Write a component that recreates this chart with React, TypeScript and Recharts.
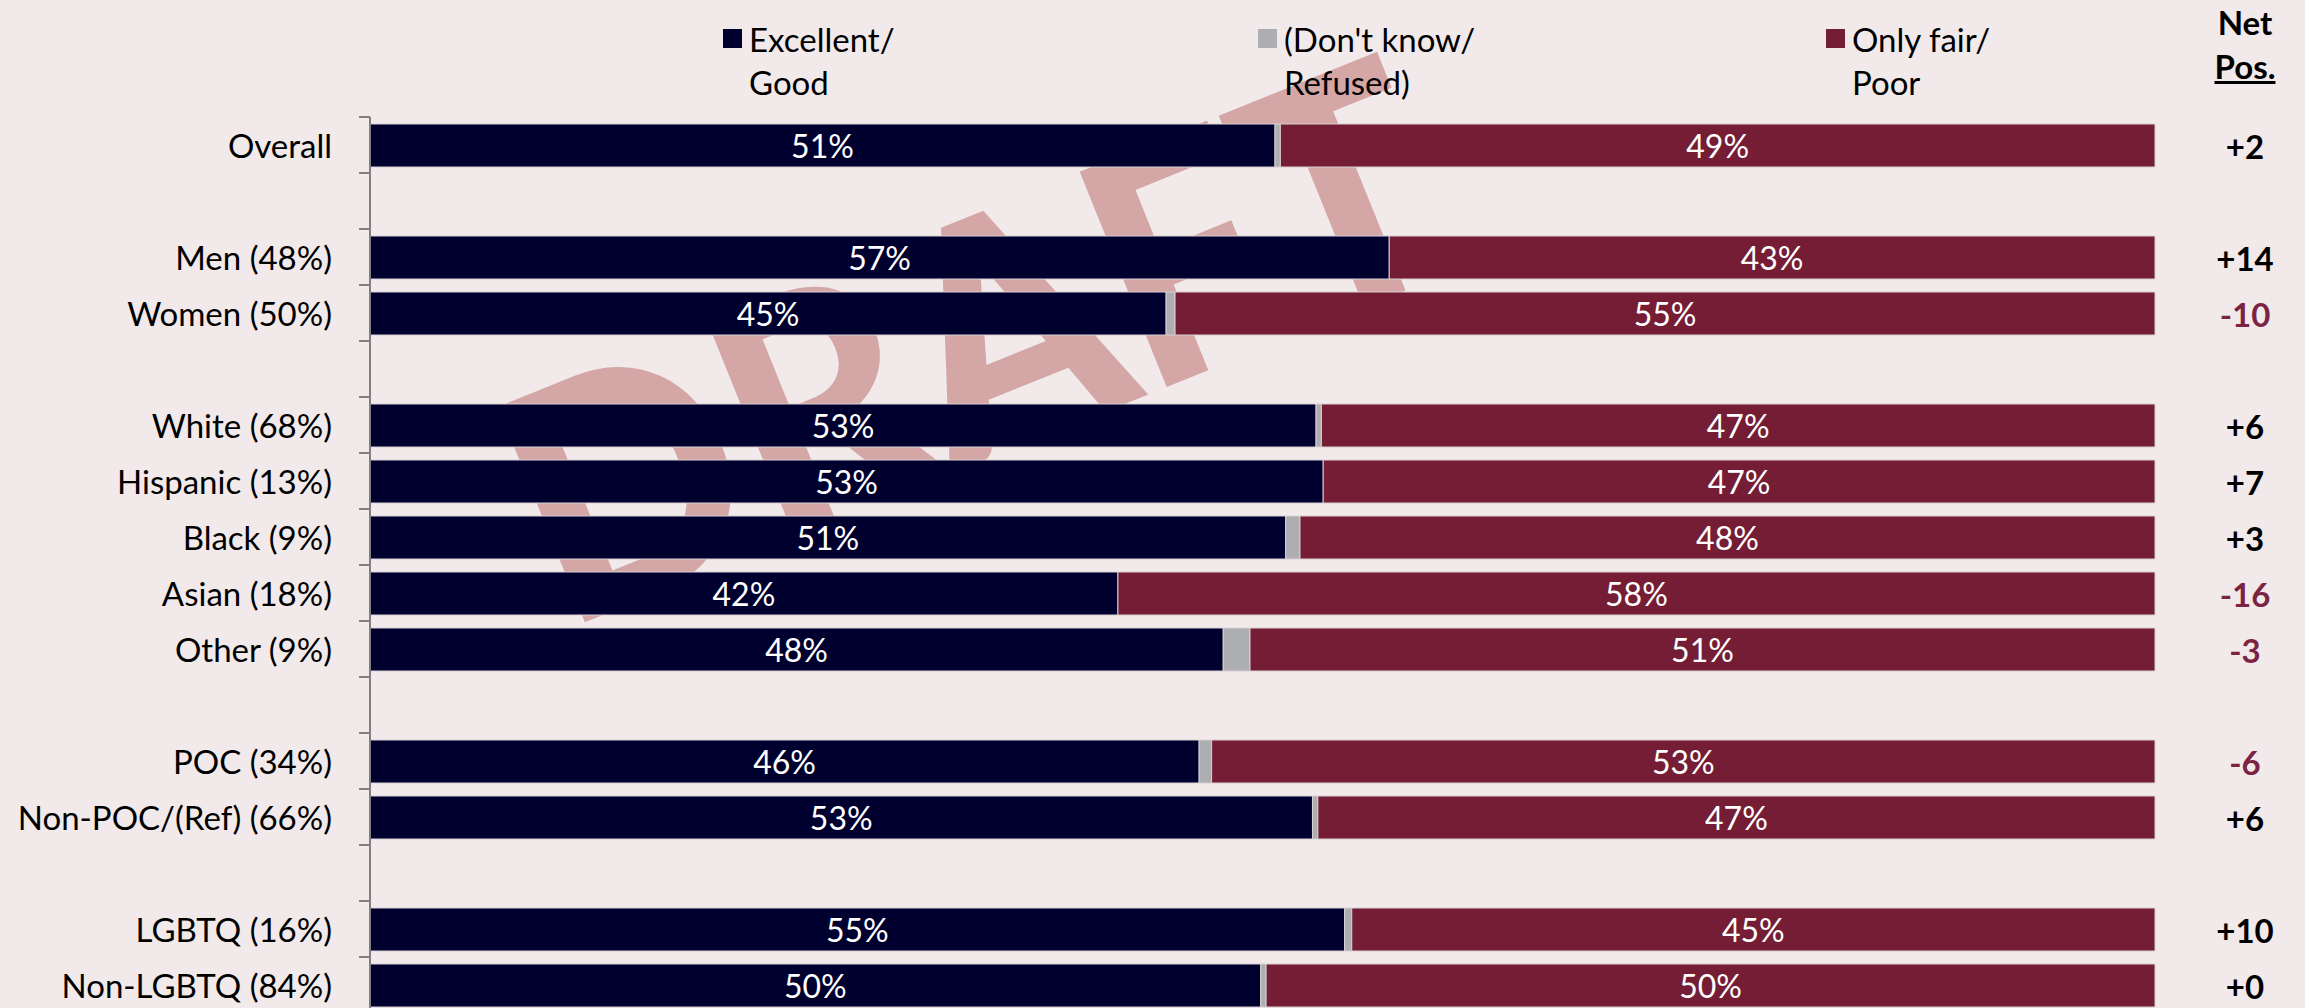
import React from "react";
import { BarChart, Bar, XAxis, YAxis, LabelList } from "recharts";

// rows top to bottom; empty strings are the spacer rows between groups
const categories = [
  "Overall",
  "",
  "Men (48%)",
  "Women (50%)",
  "",
  "White (68%)",
  "Hispanic (13%)",
  "Black (9%)",
  "Asian (18%)",
  "Other (9%)",
  "",
  "POC (34%)",
  "Non-POC/(Ref) (66%)",
  "",
  "LGBTQ (16%)",
  "Non-LGBTQ (84%)",
];

const excellentGood = [50.7, null, 57.1, 44.6, null, 53.0, 53.4, 51.3, 41.9, 47.8, null, 46.45, 52.8, null, 54.6, 49.9];
const dontKnow = [0.3, null, 0, 0.5, null, 0.3, 0, 0.8, 0, 1.5, null, 0.7, 0.3, null, 0.4, 0.3];
const onlyFairPoor = [49.0, null, 42.9, 54.9, null, 46.7, 46.6, 47.9, 58.1, 50.7, null, 52.85, 46.9, null, 45.0, 49.8];
const netPos = [2, null, 14, -10, null, 6, 7, 3, -16, -3, null, -6, 6, null, 10, 0];

const legendItems = [
  { lines: ["Excellent/", "Good"], color: "#00002E", left: 723 },
  { lines: ["(Don't know/", "Refused)"], color: "#ADAEB1", left: 1258 },
  { lines: ["Only fair/", "Poor"], color: "#741D35", left: 1826 },
];

const W = 2305;
const H = 1013;
const MARGIN = { top: 117, right: 150, bottom: 0, left: 0 };
const AXIS_W = 370;
const BAND = (H - MARGIN.top - MARGIN.bottom) / categories.length;
const FONT = "Lato, 'Open Sans', sans-serif";
const BG = "#F1E9EA";
const AXIS_COLOR = "#808080";
const NEG_COLOR = "#7A2343";

const data = categories.map((name, i) => ({
  key: `r${i}`,
  name,
  good: excellentGood[i],
  dk: dontKnow[i],
  poor: onlyFairPoor[i],
  net: netPos[i],
}));

const CategoryTick = (props: any) => {
  const { y, payload } = props;
  const i = Number(String(payload.value).slice(1));
  const name = categories[i];
  return (
    <g>
      <line x1={AXIS_W - 11} x2={AXIS_W} y1={y - BAND / 2} y2={y - BAND / 2} stroke={AXIS_COLOR} strokeWidth={2} />
      <line x1={AXIS_W - 11} x2={AXIS_W} y1={y + BAND / 2} y2={y + BAND / 2} stroke={AXIS_COLOR} strokeWidth={2} />
      {name && (
        <text x={AXIS_W - 38} y={y} textAnchor="end" dominantBaseline="central" fontSize={33} fontFamily={FONT} fill="#000">
          {name}
        </text>
      )}
    </g>
  );
};

const PctLabel = (props: any) => {
  const { x, y, width, height, value } = props;
  if (value == null || width < 20) return null;
  return (
    <text
      x={x + width / 2}
      y={y + height / 2}
      textAnchor="middle"
      dominantBaseline="central"
      fontSize={32}
      fontFamily={FONT}
      fill="#FFFFFF"
    >
      {`${Math.round(value)}%`}
    </text>
  );
};

const NetLabel = (props: any) => {
  const { x, y, width, height, value } = props;
  if (value == null) return null;
  const v = Number(value);
  return (
    <text
      x={x + width + 90}
      y={y + height / 2}
      textAnchor="middle"
      dominantBaseline="central"
      fontSize={33}
      fontWeight={700}
      fontFamily={FONT}
      fill={v < 0 ? NEG_COLOR : "#000"}
    >
      {v < 0 ? `${v}` : `+${v}`}
    </text>
  );
};

export default function App() {
  return (
    <div style={{ position: "relative", width: W, height: 1008, overflow: "hidden", background: BG, fontFamily: FONT }}>
      <style>{"body{margin:0}"}</style>
      {/* watermark, sits behind the bars */}
      <svg width={W} height={1008} style={{ position: "absolute", left: 0, top: 0 }}>
        <text
          x={1016}
          y={448}
          transform="rotate(-22 1016 448)"
          textAnchor="middle"
          fontSize={320}
          fontWeight={900}
          fontFamily={FONT}
          textLength={975}
          lengthAdjust="spacingAndGlyphs"
          fill="#D4A6A6"
        >
          DRAFT
        </text>
      </svg>

      {/* legend */}
      {legendItems.map((it) => (
        <div key={it.color} style={{ position: "absolute", left: it.left, top: 18, fontSize: 33, lineHeight: "43px", color: "#000" }}>
          <span style={{ position: "absolute", left: 0, top: 11, width: 19, height: 19, background: it.color }} />
          <div style={{ paddingLeft: 26, whiteSpace: "nowrap" }}>
            {it.lines[0]}
            <br />
            {it.lines[1]}
          </div>
        </div>
      ))}
      <div style={{ position: "absolute", left: 2195, top: 0, width: 100, textAlign: "center", fontSize: 33, fontWeight: 700, lineHeight: "44px" }}>
        Net
        <br />
        <span style={{ textDecoration: "underline" }}>Pos.</span>
      </div>

      <div style={{ position: "absolute", left: 0, top: 0 }}>
        <BarChart width={W} height={H} data={data} layout="vertical" margin={MARGIN} barSize={43}>
          <XAxis type="number" domain={[0, 100]} hide />
          <YAxis
            type="category"
            dataKey="key"
            width={AXIS_W}
            interval={0}
            axisLine={{ stroke: AXIS_COLOR, strokeWidth: 2 }}
            tickLine={false}
            tick={<CategoryTick />}
          />
          <Bar dataKey="good" stackId="a" fill="#00002E" stroke="#D8D0D4" strokeWidth={1} isAnimationActive={false}>
            <LabelList dataKey="good" content={<PctLabel />} />
          </Bar>
          <Bar dataKey="dk" stackId="a" fill="#ADAEB1" stroke="#D8D0D4" strokeWidth={1} isAnimationActive={false} />
          <Bar dataKey="poor" stackId="a" fill="#741D35" stroke="#D8D0D4" strokeWidth={1} isAnimationActive={false}>
            <LabelList dataKey="poor" content={<PctLabel />} />
            <LabelList dataKey="net" content={<NetLabel />} />
          </Bar>
        </BarChart>
      </div>
    </div>
  );
}
